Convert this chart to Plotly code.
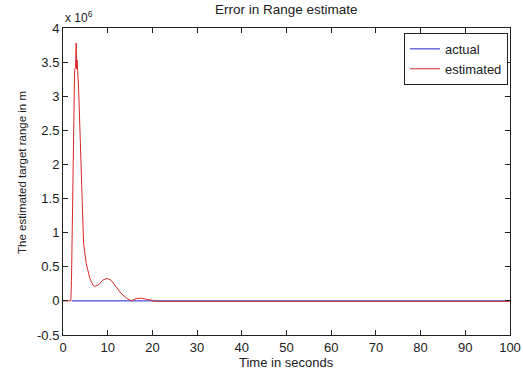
import plotly.graph_objects as go

# Data (values in metres)
t_actual = [2.0, 100.0]
r_actual = [0.0, 0.0]

t_est = [0, 1.75, 1.9, 2.2, 2.6, 2.8, 2.95, 3.05, 3.15, 3.5, 3.9, 4.25, 4.6, 4.85, 5.2, 6.0, 6.7,
         7.1, 8.0, 9.0, 9.9, 10.8, 12.0, 13.0, 14.2, 15.3, 16.4, 17.5, 19.0, 20.0, 20.1,
         24.0, 24.1, 27.0, 27.1, 34.0, 34.1, 72.0, 72.1, 100.0]
r_est = [0, 0, 0.3e6, 1.87e6, 3.39e6, 3.42e6, 3.78e6, 3.4e6, 3.53e6, 3.1e6, 2.36e6, 1.48e6,
         0.85e6, 0.72e6, 0.55e6, 0.33e6, 0.23e6, 0.21e6, 0.24e6, 0.31e6, 0.33e6, 0.30e6,
         0.20e6, 0.11e6, 0.04e6, 0.0, 0.035e6, 0.04e6, 0.02e6, 0.01e6, -0.006e6,
         -0.006e6, 0.0, 0.0, -0.006e6, -0.006e6, 0.0, 0.0, -0.006e6, -0.006e6]

y_tickvals = [-0.5e6, 0, 0.5e6, 1e6, 1.5e6, 2e6, 2.5e6, 3e6, 3.5e6, 4e6]
y_ticktext = ["-0.5", "0", "0.5", "1", "1.5", "2", "2.5", "3", "3.5", "4"]
x_tickvals = [0, 10, 20, 30, 40, 50, 60, 70, 80, 90, 100]

fig = go.Figure()
fig.add_trace(go.Scatter(x=t_actual, y=r_actual, mode="lines", name="actual",
                         line=dict(color="#2020d0", width=1)))
fig.add_trace(go.Scatter(x=t_est, y=r_est, mode="lines", name="estimated",
                         line=dict(color="#d82828", width=1)))

FAM = "Liberation Sans, Arial, sans-serif"
font = dict(family=FAM, size=13, color="#202020")

fig.update_layout(
    width=523, height=373,
    margin=dict(l=63, r=13, t=28, b=38, autoexpand=False),
    paper_bgcolor="white", plot_bgcolor="white",
    font=font,
    showlegend=True,
    legend=dict(x=0.9955, xanchor="right", y=0.984, yanchor="top",
                bordercolor="#202020", borderwidth=1, bgcolor="white",
                font=dict(size=13), tracegroupgap=0, itemwidth=30),
    xaxis=dict(range=[0, 100], tickvals=x_tickvals, ticks="inside", ticklen=5,
               showline=True, linecolor="#202020", linewidth=1, mirror="ticks",
               tickcolor="#202020", showgrid=False, zeroline=False,
               tickfont=dict(size=13), automargin=False),
    yaxis=dict(range=[-0.5e6, 4e6], tickvals=y_tickvals, ticktext=y_ticktext,
               ticks="inside", ticklen=5,
               showline=True, linecolor="#202020", linewidth=1, mirror="ticks",
               tickcolor="#202020", showgrid=False, zeroline=False,
               tickfont=dict(size=13), automargin=False),
)

# Title and axis titles as positioned annotations
fig.add_annotation(text="Error in Range estimate", xref="paper", yref="paper",
                   x=0.5, y=1, xanchor="center", yanchor="middle", yshift=19,
                   showarrow=False, font=dict(family=FAM, size=13.5, color="#202020"))
fig.add_annotation(text="Time in seconds", xref="paper", yref="paper",
                   x=0.5, y=0, xanchor="center", yanchor="middle", yshift=-27,
                   showarrow=False, font=dict(family=FAM, size=13, color="#202020"))
fig.add_annotation(text="The estimated target range in m", xref="paper", yref="paper",
                   x=0, y=(335 - 173) / 307, xanchor="center", yanchor="middle",
                   xshift=-41, textangle=-90,
                   showarrow=False, font=dict(family=FAM, size=11.5, color="#202020"))
fig.add_annotation(text="x 10<sup>6</sup>", xref="paper", yref="paper",
                   x=0, y=1, xanchor="left", yanchor="bottom", yshift=1,
                   showarrow=False, font=dict(family=FAM, size=12, color="#202020"))

fig.write_html("out.html",
               config={"displayModeBar": False},
               post_script="document.body.style.margin='0';document.body.style.overflow='hidden';")
